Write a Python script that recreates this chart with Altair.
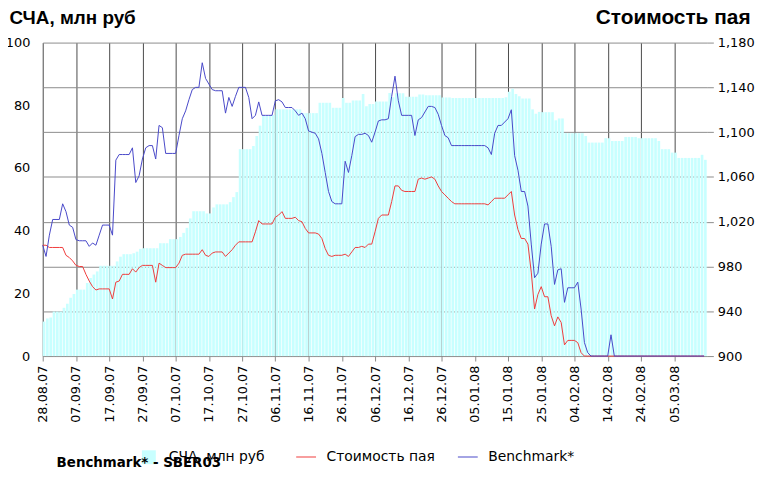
import altair as alt
import pandas as pd

# ---------------- data ----------------
start_date = "2007-08-28"
n_days = 200
domain_start = "2007-08-28"
domain_end = "2008-03-15"

tick_dates = ["2007-08-28", "2007-09-07", "2007-09-17", "2007-09-27", "2007-10-07",
              "2007-10-17", "2007-10-27", "2007-11-06", "2007-11-16", "2007-11-26",
              "2007-12-06", "2007-12-16", "2007-12-26", "2008-01-05", "2008-01-15",
              "2008-01-25", "2008-02-04", "2008-02-14", "2008-02-24", "2008-03-05"]

left_ticks = [0, 20, 40, 60, 80, 100]
right_ticks = [900, 940, 980, 1020, 1060, 1100, 1140, 1180]

name_nav = "СЧА, млн руб"
name_unit = "Стоимость пая"
name_bench = "Benchmark*"
footnote = "Benchmark* - SBER03"

# СЧА, млн руб (daily)
nav = [
    11.0, 12.0, 12.3, 14.2, 14.2, 14.2, 15.4, 16.7, 18.6, 19.8,
    21.2, 21.2, 21.2, 23.3, 24.9, 26.0, 27.0, 28.8, 28.8, 28.8,
    28.8, 28.8, 30.2, 31.7, 32.5, 32.5, 32.5, 32.8, 33.3, 34.2,
    34.4, 34.4, 34.4, 34.4, 34.4, 36.0, 36.0, 36.0, 37.3, 37.3,
    37.3, 38.0, 39.3, 40.9, 43.9, 46.2, 46.2, 46.2, 46.2, 45.5,
    45.5, 47.4, 48.4, 48.4, 48.4, 48.4, 49.1, 50.7, 52.3, 66.0,
    66.0, 66.0, 66.0, 67.0, 70.2, 73.5, 76.6, 76.6, 76.6, 76.9,
    78.7, 78.7, 78.7, 78.7, 78.7, 78.7, 78.7, 78.7, 77.5, 77.5,
    77.5, 77.5, 77.5, 80.8, 80.8, 80.8, 80.8, 79.2, 79.2, 79.2,
    82.3, 80.8, 80.8, 81.5, 81.5, 81.5, 83.6, 79.7, 80.4, 80.4,
    81.2, 81.2, 81.2, 81.2, 83.9, 82.6, 83.8, 83.8, 83.8, 82.7,
    82.7, 82.7, 82.7, 83.4, 83.4, 83.2, 83.2, 83.2, 83.2, 83.2,
    82.5, 82.5, 82.5, 82.3, 82.3, 82.3, 82.3, 82.3, 82.3, 82.3,
    82.3, 82.3, 82.3, 82.3, 82.3, 82.3, 82.3, 82.3, 82.3, 82.6,
    84.3, 85.3, 83.6, 82.9, 82.2, 82.2, 82.2, 78.7, 77.3, 77.9,
    77.8, 77.8, 77.8, 77.8, 75.2, 75.8, 75.8, 71.1, 71.1, 71.1,
    71.1, 71.1, 71.1, 70.2, 68.1, 68.1, 68.1, 68.1, 68.1, 69.5,
    69.5, 68.6, 68.6, 68.6, 68.6, 69.9, 69.9, 69.9, 69.9, 69.5,
    69.5, 69.5, 69.5, 69.5, 69.5, 68.6, 66.0, 66.0, 66.0, 64.9,
    64.9, 63.2, 63.2, 63.2, 63.2, 63.2, 63.2, 63.2, 64.2, 62.6,
]

# Стоимость пая (daily)
unit_price = [
    999, 999, 997, 997, 997, 997, 997, 990, 988, 985,
    981, 980, 980, 973, 967, 962, 959, 960, 960, 960,
    960, 951, 966, 967, 973, 973, 973, 978, 975, 979,
    981, 981, 981, 981, 966, 983, 981, 979, 979, 979,
    979, 983, 990, 991, 991, 991, 991, 991, 995, 990,
    989, 992, 993, 993, 993, 989, 992, 995, 999, 1002,
    1002, 1002, 1002, 1002, 1011, 1021, 1018, 1018, 1018, 1018,
    1024, 1026, 1029, 1023, 1023, 1023, 1024, 1021, 1020, 1014,
    1010, 1010, 1010, 1009, 1005, 996, 990, 989, 990, 990,
    990, 991, 989, 993, 997, 997, 998, 997, 1000, 1000,
    1011, 1023, 1026, 1026, 1026, 1038, 1052, 1052, 1048, 1047,
    1047, 1047, 1047, 1058, 1059, 1058, 1059, 1060, 1058, 1052,
    1047, 1044, 1041, 1038, 1036, 1036, 1036, 1036, 1036, 1036,
    1036, 1036, 1036, 1036, 1035, 1038, 1041, 1041, 1041, 1041,
    1044, 1047, 1026, 1013, 1005, 1005, 1000, 975, 942, 955,
    962, 953, 953, 936, 927, 935, 930, 910, 914, 914,
    914, 912, 903, 900, 900, 900, 900, 900, 900, 900,
    900, 900, 900, 900, 900, 900, 900, 900, 900, 900,
    900, 900, 900, 900, 900, 900, 900, 900, 900, 900,
    900, 900, 900, 900, 900, 900, 900, 900, 900, 900,
]

# Benchmark* (daily)
benchmark = [
    999, 989, 1008, 1022, 1022, 1022, 1036, 1029, 1017, 1015,
    1004, 1003, 1003, 1003, 998, 1001, 999, 1008, 1017, 1017,
    1017, 1008, 1075, 1080, 1080, 1080, 1080, 1086, 1055, 1061,
    1076, 1086, 1088, 1088, 1076, 1106, 1104, 1081, 1081, 1081,
    1081, 1097, 1112, 1119, 1129, 1138, 1140, 1140, 1162, 1148,
    1143, 1138, 1137, 1137, 1137, 1117, 1131, 1123, 1132, 1140,
    1140, 1140, 1131, 1112, 1115, 1127, 1115, 1115, 1115, 1115,
    1128, 1129, 1127, 1122, 1122, 1122, 1119, 1115, 1117, 1112,
    1101, 1100, 1099, 1094, 1081, 1064, 1047, 1038, 1036, 1036,
    1036, 1074, 1064, 1079, 1096, 1098, 1098, 1099, 1097, 1091,
    1100, 1110, 1111, 1111, 1112, 1132, 1150, 1128, 1115, 1115,
    1115, 1115, 1097, 1111, 1113, 1118, 1123, 1123, 1122, 1116,
    1106, 1097, 1095, 1088, 1088, 1088, 1088, 1088, 1088, 1088,
    1088, 1088, 1088, 1088, 1086, 1080, 1099, 1106, 1106, 1109,
    1112, 1120, 1079, 1066, 1047, 1047, 1034, 1000, 970, 974,
    1000, 1018, 1018, 998, 964, 977, 978, 948, 961, 961,
    961, 966, 942, 912, 903, 900, 900, 900, 900, 900,
    900, 919, 900, 900, 900, 900, 900, 900, 900, 900,
    900, 900, 900, 900, 900, 900, 900, 900, 900, 900,
    900, 900, 900, 900, 900, 900, 900, 900, 900, 900,
]

# ---------------- tables ----------------
days = pd.date_range(start_date, periods=n_days + 1, freq="D")
date_str = [d.strftime("%Y-%m-%d") for d in days[:-1]]
date_end_str = [d.strftime("%Y-%m-%d") for d in days[1:]]

bar_df = pd.DataFrame({"date": date_str, "date_end": date_end_str,
                       "value": nav, "series": [name_nav] * n_days})
line_df = pd.DataFrame({"date": date_str * 2,
                        "value": unit_price + benchmark,
                        "series": [name_unit] * n_days + [name_bench] * n_days})


def dt(s):
    y, m, d = s.split("-")
    return alt.DateTime(year=int(y), month=int(m), date=int(d), utc=True)


LABEL_FONT = "DejaVu Sans"
TITLE_FONT = "Liberation Sans"

x_scale = alt.Scale(type="utc", domain=[dt(domain_start), dt(domain_end)], nice=False)
x_axis = alt.Axis(values=[dt(s) for s in tick_dates], format="%d.%m.%y",
                  labelAngle=270, labelFont=LABEL_FONT, labelFontSize=13,
                  labelColor="black", labelPadding=4, labelOverlap=False,
                  labelFlush=False, tickSize=5, tickColor="#8a8a8a", domain=False,
                  grid=True, gridColor="#4a4a4a", gridWidth=1, title=None)

bars = alt.Chart(bar_df).mark_bar(x2Offset=-0.7).encode(
    x=alt.X("date:T", scale=x_scale, axis=x_axis),
    x2="date_end:T",
    y=alt.Y("value:Q", scale=alt.Scale(domain=[0, 100], nice=False),
            axis=alt.Axis(orient="left", values=left_ticks, grid=False, ticks=False,
                          domain=False, labelPadding=13, labelFont=LABEL_FONT,
                          labelFontSize=13, labelColor="black",
                          title=name_nav, titleAngle=0, titleX=-34, titleY=-19,
                          titleAlign="left", titleBaseline="alphabetic",
                          titleFont=TITLE_FONT, titleFontSize=19,
                          titleFontWeight="bold", titleColor="black")),
    y2=alt.datum(0),
    fill=alt.Fill("series:N", scale=alt.Scale(domain=[name_nav], range=["#c8ffff"]),
                  legend=alt.Legend(orient="none", legendX=100, legendY=411, title=None,
                                    symbolType="square", symbolSize=196,
                                    symbolStrokeWidth=0, labelOffset=13,
                                    labelFont=LABEL_FONT, labelFontSize=14,
                                    labelColor="black", padding=0)),
)

right_axis = alt.Axis(orient="right", values=right_ticks, format=",.0f", grid=True,
                      gridColor="#8c8c8c", gridWidth=1, ticks=True, tickSize=6,
                      tickColor="#8c8c8c", domain=False, labelPadding=4,
                      labelFont=LABEL_FONT, labelFontSize=13, labelColor="black",
                      title=name_unit, titleAngle=0, titleX=43, titleY=-19,
                      titleAlign="right", titleBaseline="alphabetic",
                      titleFont=TITLE_FONT, titleFontSize=21, titleFontWeight="bold",
                      titleColor="black")

stroke_enc = alt.Stroke("series:N",
                        scale=alt.Scale(domain=[name_unit, name_bench],
                                        range=["#f03c3c", "#4848c8"]),
                        legend=alt.Legend(orient="none", direction="horizontal",
                                          legendX=255, legendY=407, title=None,
                                          symbolType="stroke", symbolSize=400,
                                          symbolStrokeWidth=1, labelOffset=10,
                                          columnPadding=20, labelFont=LABEL_FONT,
                                          labelFontSize=14, labelColor="black",
                                          padding=0))


def line_layer(name):
    return alt.Chart(line_df).transform_filter(
        alt.datum.series == name
    ).mark_line(strokeWidth=1).encode(
        x=alt.X("date:T", scale=x_scale, axis=x_axis),
        y=alt.Y("value:Q", scale=alt.Scale(domain=[900, 1180], nice=False),
                axis=right_axis),
        stroke=stroke_enc,
    )


lines = alt.layer(line_layer(name_unit), line_layer(name_bench))

chart = alt.layer(bars, lines).resolve_scale(y="independent").properties(
    width=670, height=316,
    autosize=alt.AutoSizeParams(type="none"),
    padding={"left": 35, "top": 33, "right": 49, "bottom": 115},
    background="white",
    title=alt.TitleParams(footnote, orient="bottom", anchor="start", frame="group",
                          dx=14, dy=-8, offset=0, font=LABEL_FONT, fontSize=13.5,
                          fontWeight="bold", color="black", zindex=1),
).configure_view(stroke=None)

chart.save("out.html", embed_options={"renderer": "svg", "actions": False})
